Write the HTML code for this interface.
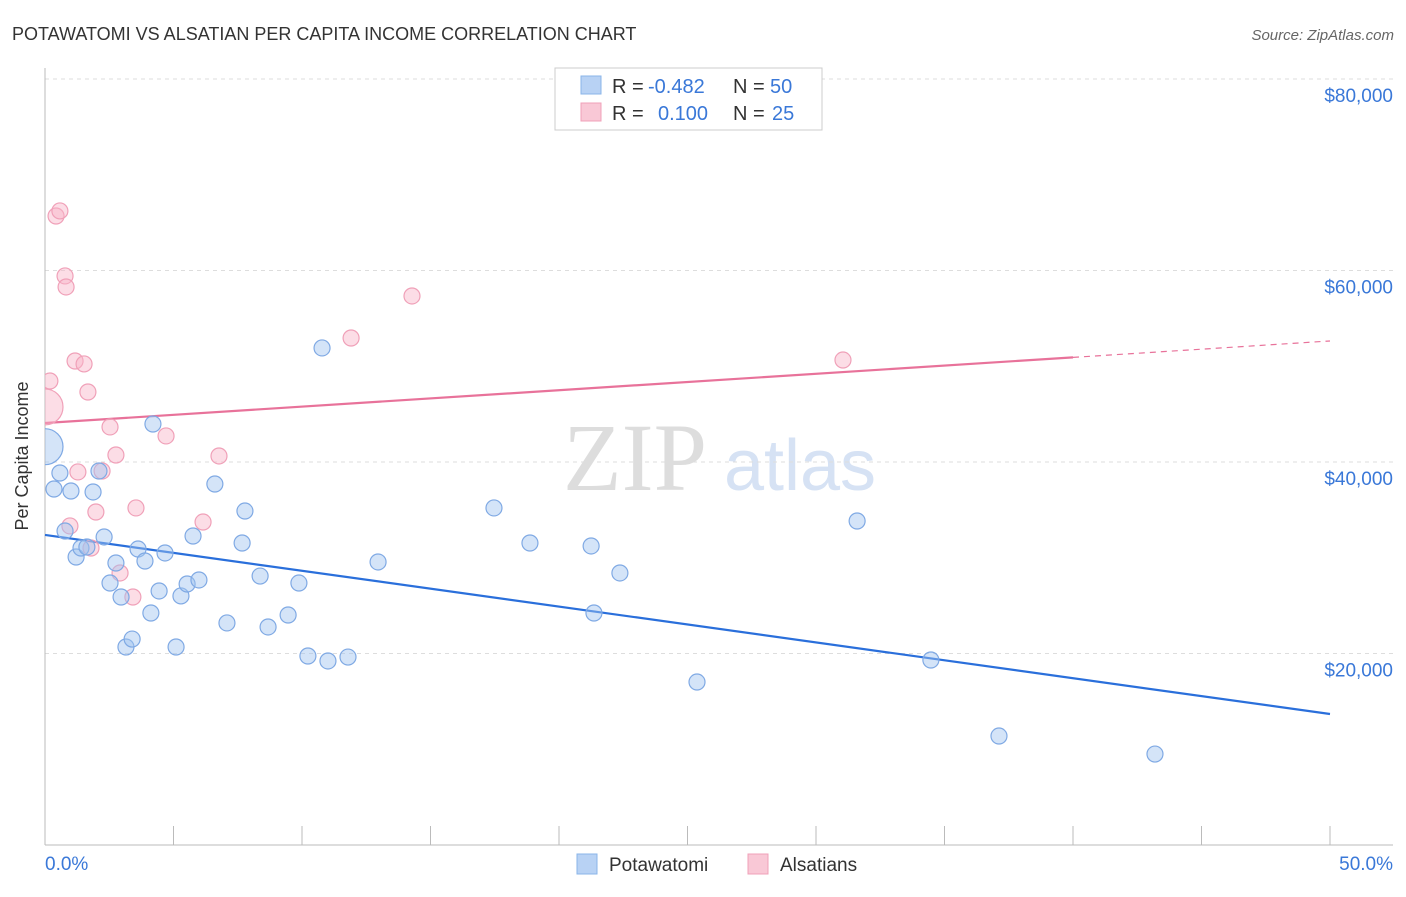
<!DOCTYPE html>
<html><head><meta charset="utf-8"><style>
body{margin:0;background:#fff;font-family:"Liberation Sans",sans-serif}
</style></head><body>
<svg width="1406" height="892" id="c" xmlns="http://www.w3.org/2000/svg" style="font-family:'Liberation Sans',sans-serif">
<defs><clipPath id="plotclip"><rect x="45" y="60" width="1360" height="786"/></clipPath></defs>
<text x="12" y="40" font-size="18" fill="#333">POTAWATOMI VS ALSATIAN PER CAPITA INCOME CORRELATION CHART</text>
<text x="1394" y="40" font-size="15" fill="#666" text-anchor="end" font-style="italic">Source: ZipAtlas.com</text>
<text x="28" y="456" font-size="18" fill="#333" text-anchor="middle" transform="rotate(-90 28 456)">Per Capita Income</text>
<g><text x="635" y="490" font-size="96" fill="#ddd" text-anchor="middle" font-family="Liberation Serif,serif">ZIP</text><text x="800" y="490" font-size="72" fill="#d6e2f4" text-anchor="middle">atlas</text></g>
<g id="grid"></g><g id="axes"></g><g id="lines"></g><g id="pts" clip-path="url(#plotclip)"></g>
<g>
<rect x="555" y="68" width="267" height="62" fill="#fff" stroke="#ccc"/>
<rect x="581" y="76" width="20" height="18" fill="#b8d2f4" stroke="#8ab4e8"/>
<rect x="581" y="103" width="20" height="18" fill="#f9c8d6" stroke="#f0a0b8"/>
<text x="612" y="93" font-size="20" fill="#333">R =</text>
<text x="648" y="93" font-size="20" fill="#3a78d8">-0.482</text>
<text x="733" y="93" font-size="20" fill="#333">N =</text>
<text x="770" y="93" font-size="20" fill="#3a78d8">50</text>
<text x="612" y="120" font-size="20" fill="#333">R =</text>
<text x="658" y="120" font-size="20" fill="#3a78d8">0.100</text>
<text x="733" y="120" font-size="20" fill="#333">N =</text>
<text x="772" y="120" font-size="20" fill="#3a78d8">25</text>
</g>
<g>
<rect x="577" y="854" width="20" height="20" fill="#b8d2f4" stroke="#8ab4e8"/>
<text x="609" y="871" font-size="19" fill="#333">Potawatomi</text>
<rect x="748" y="854" width="20" height="20" fill="#f9c8d6" stroke="#f0a0b8"/>
<text x="780" y="871" font-size="19" fill="#333">Alsatians</text>
</g>
</svg>
<script>
const blueX=[0,0.35,0.58,0.78,1.01,1.21,1.40,1.63,1.87,2.10,2.30,2.53,2.76,2.96,3.15,3.39,3.62,3.89,4.12,4.20,4.44,4.67,5.10,5.29,5.53,5.76,5.99,6.61,7.08,7.67,7.78,8.37,8.68,9.46,9.88,10.23,10.78,11.01,11.79,12.96,17.47,18.87,21.25,21.36,22.37,25.37,31.60,34.47,37.12,43.19];
const blueY=[41600,37180,38850,32790,36970,30080,31020,31120,36870,39060,32170,27360,29450,25900,20680,21510,30910,29660,24230,43970,26530,30500,20680,26010,27260,32270,27680,37700,23190,31540,34880,28090,22770,24020,27360,19740,51910,19220,19630,29560,35200,31540,31230,24230,28410,17020,33840,19320,11380,9500];
const pinkX=[0,0.19,0.43,0.58,0.78,0.82,0.97,1.17,1.28,1.52,1.67,1.79,1.98,2.22,2.53,2.76,2.92,3.42,3.54,4.71,6.15,6.77,11.91,14.28,31.05];
const pinkY=[45750,48460,65690,66220,59430,58280,33320,50550,38960,50240,47310,31020,34780,39060,43660,40730,28410,25900,35200,42720,33730,40630,52950,57340,50650];
const yTicks=[20000,40000,60000,80000];
const blueTrend=[32380,13680];
const pinkTrend=[44070,52640];
const pinkSolidEnd=40;
const sx=v=>45+v/50*1285, sy=v=>845-v/20000*191.5;
const NS="http://www.w3.org/2000/svg";
function mk(p,t,a){const e=document.createElementNS(NS,t);for(const k in a)e.setAttribute(k,a[k]);document.getElementById(p).appendChild(e);return e;}
yTicks.forEach(v=>{
 const l=mk('grid','line',{x1:45,x2:1393,y1:sy(v),y2:sy(v),stroke:'#ddd','stroke-dasharray':'4 4'});
 
 
 const t=mk('grid','text',{x:1393,y:sy(v)+23,'font-size':19,fill:'#3a78d8','text-anchor':'end'});
 t.textContent='$'+v.toLocaleString('en-US');
 
 
});
let a=mk('axes','line',{x1:45,x2:45,y1:68,y2:845,stroke:'#bbb'});


a=mk('axes','line',{x1:45,x2:1393,y1:845,y2:845,stroke:'#bbb'});


for(let i=0;i<=10;i++){const k=mk('axes','line',{x1:sx(i*5),x2:sx(i*5),y1:826,y2:845,stroke:'#bbb'});
 
 }
[['0.0%',45,'start'],['50.0%',1393,'end']].forEach(d=>{const t=mk('axes','text',{x:d[1],y:870,'font-size':19,fill:'#3a78d8','text-anchor':d[2]});t.textContent=d[0];
 
 });
let ln=mk('lines','line',{x1:sx(0),y1:sy(blueTrend[0]),x2:sx(50),y2:sy(blueTrend[1]),stroke:'#2a6fdb','stroke-width':2.2});


const pm=pinkTrend[0]+(pinkTrend[1]-pinkTrend[0])*pinkSolidEnd/50;
ln=mk('lines','line',{x1:sx(0),y1:sy(pinkTrend[0]),x2:sx(pinkSolidEnd),y2:sy(pm),stroke:'#e8729a','stroke-width':2.2});


ln=mk('lines','line',{x1:sx(pinkSolidEnd),y1:sy(pm),x2:sx(50),y2:sy(pinkTrend[1]),stroke:'#e8729a','stroke-width':1.2,'stroke-dasharray':'6 5'});


function pts(X,Y,fill,stroke,name){X.forEach((x,i)=>{const c=mk('pts','circle',{cx:sx(x),cy:sy(Y[i]),r:i==0?18:8,fill:fill,stroke:stroke,'stroke-width':1.2});
 
 });}
pts(pinkX,pinkY,'rgba(248,180,200,0.45)','#f0a0b8','alsatians-point');
pts(blueX,blueY,'rgba(160,196,240,0.45)','#7fa9e4','potawatomi-point');
</script>
</body></html>
